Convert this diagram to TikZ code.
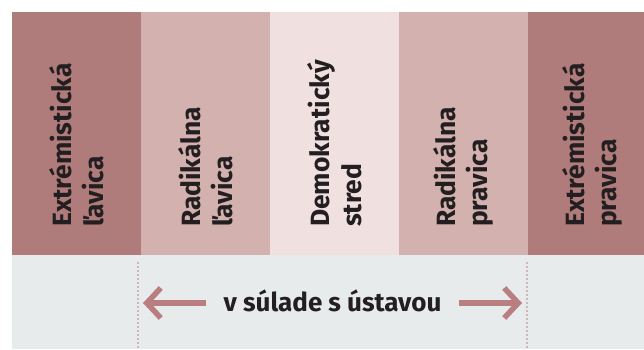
\documentclass[tikz,border=0pt]{standalone}
\usepackage{fontspec}
\setmainfont{Fira Sans}
\usetikzlibrary{arrows.meta}
\definecolor{extrem}{HTML}{B07B7B}
\definecolor{radikal}{HTML}{D3B1AF}
\definecolor{stred}{HTML}{F0E0DF}
\definecolor{podklad}{HTML}{E8EBEB}
\definecolor{sipka}{HTML}{B87E80}
\definecolor{pismo}{HTML}{231F20}

\begin{document}
\begin{tikzpicture}[x=1pt, y=1pt,
        stlpec/.style = {rotate=90, anchor=west, align=left, inner sep=0pt,
            font=\fontsize{26.4}{32}\selectfont\bfseries, text=pismo},
        sipka/.style = {draw=sipka, line width=5.5pt,
            -{Straight Barb[length=14pt, width=30pt]}},
        bodky/.style = {draw=sipka, line width=1.8pt, line cap=round,
            dash pattern=on 0pt off 4pt}
    ]
        \useasboundingbox (0, 0) rectangle (644, 349);

        % pasy
        \fill[extrem]  (12, 94) rectangle (141, 337);
        \fill[radikal] (141, 94) rectangle (270, 337);
        \fill[stred]   (270, 94) rectangle (399, 337);
        \fill[radikal] (399, 94) rectangle (528, 337);
        \fill[extrem]  (528, 94) rectangle (644, 337);
        \fill[podklad] (12, 0) rectangle (644, 94);

        % popisy
        \node[stlpec] (extrl) at (76.5, 122) {Extrémistická\\ľavica};
        \node[stlpec] (radl)  at (205.5, 122) {Radikálna\\ľavica};
        \node[stlpec] (stred) at (334.5, 122) {Demokratický\\stred};
        \node[stlpec] (radp)  at (463.5, 122) {Radikálna\\pravica};
        \node[stlpec] (extrp) at (592.5, 122) {Extrémistická\\pravica};

        % hranice
        \draw[bodky] (138, 86) -- (138, 0);
        \draw[bodky] (527, 86) -- (527, 0);

        \node[anchor=base, inner xsep=17pt, text=pismo,
            font=\fontsize{26}{30}\selectfont\bfseries] (ustava) at (332.5, 37.3) {v súlade s ústavou};
        \coordinate (hrotl) at (143, 46);
        \coordinate (hrotp) at (522, 46);
        \draw[sipka] (ustava.west |- hrotl) -- (hrotl);
        \draw[sipka] (ustava.east |- hrotp) -- (hrotp);

    \end{tikzpicture}
\end{document}
